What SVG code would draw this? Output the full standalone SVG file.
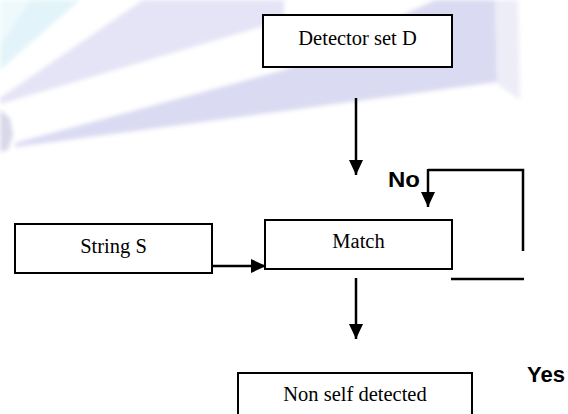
<svg xmlns="http://www.w3.org/2000/svg" width="568" height="414" viewBox="0 0 568 414">
<defs>
<style>
.box{fill:#fff;stroke:#000;stroke-width:2}
.t{font-family:"Liberation Serif","Times New Roman",serif;font-size:20.5px;fill:#000;text-anchor:middle}
.lbl{font-family:"Liberation Sans",Arial,sans-serif;font-size:22px;font-weight:bold;fill:#000}
.ln{stroke:#000;stroke-width:2.5;fill:none}
</style>
<marker id="ah" markerUnits="userSpaceOnUse" markerWidth="16" markerHeight="16" refX="15" refY="7" orient="auto">
<path d="M0,0 L15,7 L0,14 Z" fill="#000"/>
</marker>
<filter id="blur" x="-10%" y="-10%" width="120%" height="120%"><feGaussianBlur stdDeviation="2"/></filter>
</defs>
<rect width="568" height="414" fill="#fff"/>
<g id="watermark" filter="url(#blur)">
<polygon points="0,0 75,0 0,55" fill="#eef9fc"/>
<polygon points="30,0 80,0 0,70 0,45" fill="#e2f4fa"/>
<polygon points="0,98 143,0 284,0 284,20 0,104" fill="#e4e4f6"/>
<polygon points="15,143 284,70 435,0 495,0 497,82 284,111 15,147" fill="#dadaf2"/>
<polygon points="495,0 518,0 520,100 497,84" fill="#ededf8"/>
<polygon points="0,110 10,118 13,135 8,150 0,152" fill="#d8d8ea"/>
</g>
<g id="connectors">
<line class="ln" x1="356" y1="98" x2="356" y2="175" marker-end="url(#ah)"/>
<line class="ln" x1="212" y1="266" x2="266" y2="266" marker-end="url(#ah)"/>
<line class="ln" x1="356" y1="278" x2="356" y2="339" marker-end="url(#ah)"/>
<polyline class="ln" points="428,170 523,170 523,251"/>
<line class="ln" x1="428" y1="169" x2="428" y2="207" marker-end="url(#ah)"/>
<line class="ln" x1="451" y1="279" x2="524" y2="279"/>
</g>
<g id="detector"><rect class="box" x="263" y="15" width="189" height="52"/><text class="t" x="357.5" y="45">Detector set D</text></g>
<g id="string"><rect class="box" x="15" y="224" width="197" height="49"/><text class="t" x="113.5" y="253">String S</text></g>
<g id="match"><rect class="box" x="265" y="220" width="187" height="49"/><text class="t" x="358.5" y="248">Match</text></g>
<g id="nonself"><rect class="box" x="238" y="373" width="234" height="50"/><text class="t" x="355" y="401">Non self detected</text></g>
<text class="lbl" x="388" y="187" textLength="32" lengthAdjust="spacingAndGlyphs">No</text>
<text class="lbl" x="527" y="382">Yes</text>
</svg>
